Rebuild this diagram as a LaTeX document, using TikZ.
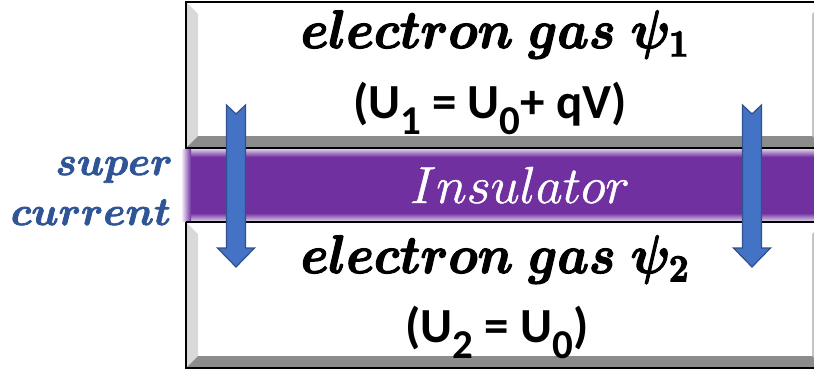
\RequirePackage{fix-cm}
\documentclass[tikz,border=0pt]{standalone}
\usepackage{fontspec}
\newfontfamily\calb{Carlito}[BoldFont=* Bold]
\usetikzlibrary{calc}
\definecolor{insul}{HTML}{7030A0}
\definecolor{arrowfill}{HTML}{4472C4}
\definecolor{arrowline}{HTML}{2F528F}
\definecolor{scblue}{HTML}{2F5597}
\definecolor{bevlight}{HTML}{D9D9D9}
\definecolor{bevdark}{HTML}{8C8C8C}
\definecolor{bevright}{HTML}{C4C4C4}
\newcommand{\heavy}[2]{\special{pdf:literal direct 2 Tr #1 w}#2\special{pdf:literal direct 0 Tr}}
\tikzset{
  bevout/.style={draw=black, line width=1.3pt},
  arrowbody/.style={fill=arrowfill, draw=arrowline, line width=1.2pt, line join=miter},
  mathtxt/.style={inner sep=0pt, anchor=base, font=\fontsize{50}{50}\selectfont\boldmath},
  sanstxt/.style={inner sep=0pt, anchor=base, font=\calb\bfseries\fontsize{49}{49}\selectfont},
  insultxt/.style={inner sep=0pt, anchor=base, text=white, font=\fontsize{52}{52}\selectfont},
  sctxt/.style={inner sep=0pt, anchor=base east, text=scblue, font=\fontsize{40}{40}\selectfont\boldmath}
}
\newcommand{\bevbox}[4]{% x0 y0 x1 y1
  \fill[white] (#1,#2) rectangle (#3,#4);
  \fill[bevlight] (#1,#2) -- (#1+12,#2+12) -- (#1+12,#4-12) -- (#1,#4) -- cycle;
  \fill[bevright] (#3,#2) -- (#3-12,#2+12) -- (#3-12,#4-12) -- (#3,#4) -- cycle;
  \fill[bevdark] (#1,#4) -- (#1+12,#4-12) -- (#3-12,#4-12) -- (#3,#4) -- cycle;
  \draw[bevout] (#1,#2) rectangle (#3,#4);
}
\newcommand{\sarrow}[1]{% center x
  \draw[arrowbody] (#1-9.5,105) -- (#1,114) -- (#1+9.5,105) -- (#1+9.5,248) -- (#1+18.5,248)
    -- (#1,267) -- (#1-18.5,248) -- (#1-9.5,248) -- cycle;
}
\newcommand{\sub}[1]{\raisebox{-0.33em}{\fontsize{41}{41}\selectfont #1}}
\begin{document}
\begin{tikzpicture}[x=1pt,y=-1pt]
\useasboundingbox (0,0) rectangle (814,370);
\begin{scope}
\clip (0,0) rectangle (814,370);
% top electrode
\bevbox{186}{2}{824}{148}
% bottom electrode
\bevbox{186}{222}{824}{368}
% insulator
\fill[insul] (183,149) rectangle (830,221);
\shade[top color=insul!25!white, bottom color=insul] (183,149) rectangle (830,157);
\shade[top color=insul, bottom color=insul!25!white] (183,213) rectangle (830,221);
\shade[left color=white, right color=insul, shading angle=90] (181,149) rectangle (191,221);
\draw[black, line width=1.2pt] (186,148) -- (830,148);
\draw[black, line width=1.2pt] (186,222) -- (830,222);
\end{scope}
% arrows
\sarrow{236}
\sarrow{752}
% texts
\node[mathtxt] (t1) at (495,48) {\heavy{1.2}{\scalebox{1}[1.08]{$electron\ gas\ \psi_1$}}};
\node[sanstxt] (u1) at (490,118) {(U\sub{1} = U\sub{0}+ qV)};
\node[insultxt] (ins) at (520,203) {\heavy{0.5}{$Insulator$}};
\node[mathtxt] (t2) at (495,273) {\heavy{1.2}{\scalebox{1}[1.08]{$electron\ gas\ \psi_2$}}};
\node[sanstxt] (u2) at (497,342) {(U\sub{2} = U\sub{0})};
\node[sctxt] (sc1) at (173,175) {\heavy{0.8}{$super$}};
\node[sctxt] (sc2) at (171,225) {\heavy{0.8}{$current$}};
\end{tikzpicture}
\end{document}
